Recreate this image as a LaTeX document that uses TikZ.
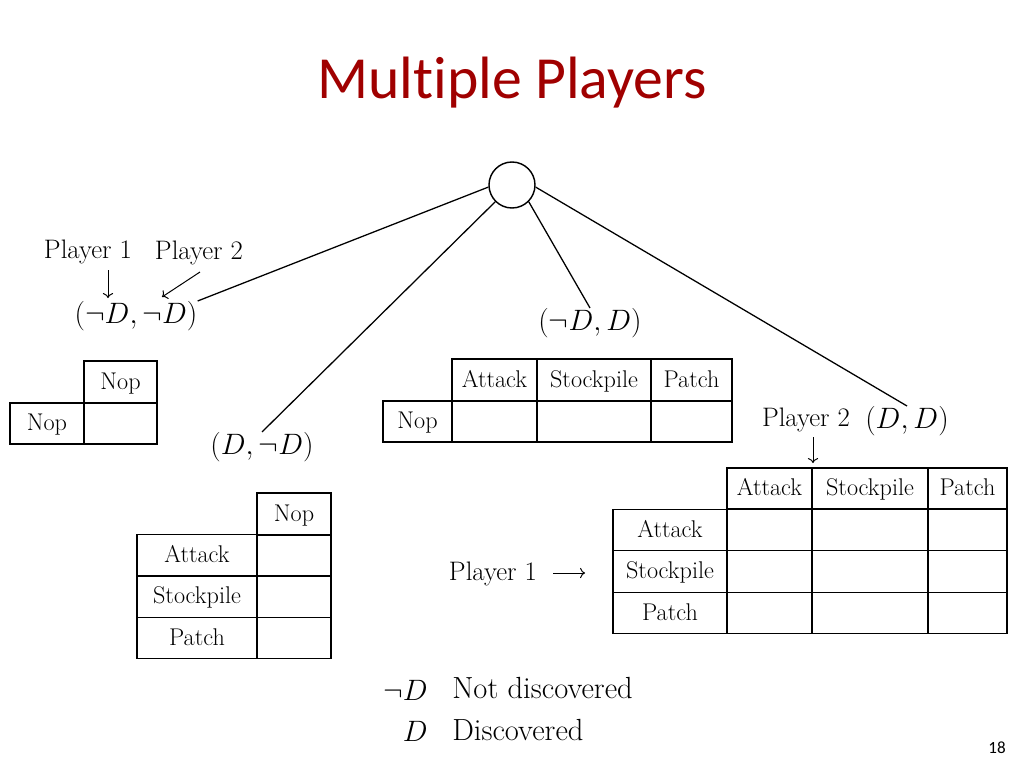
\documentclass[tikz,border=0pt]{standalone}
\usepackage{amsmath,amssymb}
\usepackage{fontspec}
\newfontfamily\calibri[Ligatures={NoCommon,NoContextual}]{Carlito}
\definecolor{titleRed}{RGB}{160, 0, 0}
\usepackage{tikz}
\usetikzlibrary{positioning, calc, arrows.meta}
\def\pxu{0.703pt}

\begin{document}
\begin{tikzpicture}[
    x=0.703pt, y=-0.703pt,
    cell/.style={rectangle, draw, line width=0.9pt, inner sep=0pt,
                 text height=11pt, text depth=1pt,
                 font=\fontsize{17}{20}\selectfont},
    mlbl/.style={inner sep=0pt, font=\fontsize{20}{24}\selectfont},
    plbl/.style={inner sep=0pt, font=\fontsize{18.8}{22}\selectfont},
    lgtxt/.style={inner sep=0pt, font=\fontsize{21.5}{25}\selectfont},
    edge/.style={line width=0.9pt},
    parrow/.style={-{Computer Modern Rightarrow[scale=1.1]}, line width=0.7pt},
  ]
    \useasboundingbox (0,0) rectangle (1024,768);

    % Title
    \node[font=\calibri\fontsize{42}{48}\selectfont, text=titleRed] (title) at (512,83) {Multiple Players};

    % Root and outcomes
    \node[circle, draw, line width=1pt, minimum size=46*\pxu, inner sep=0pt] (root) at (512,185) {};
    \node[mlbl] (nn) at (136,316) {$(\neg D, \neg D)$};
    \node[mlbl] (nd) at (590,323) {$(\neg D, D)$};
    \node[mlbl] (dn) at (262,447) {$(D, \neg D)$};
    \node[mlbl] (dd) at (907,421) {$(D, D)$};
    \draw[edge] (root.185) -- (nn.north east);
    \draw[edge] (root.225) -- (dn.north);
    \draw[edge] (root.315) -- (nd.north);
    \draw[edge] (root.355) -- (dd.north);

    % Player labels
    \node[plbl] (p1a) at (88,252) {Player 1};
    \node[plbl] (p2a) at (199,253) {Player 2};
    \node[plbl] (p2b) at (806,420) {Player 2};
    \node[plbl] (p1b) at (493,574) {Player 1};
    \coordinate (a1s) at (108,270);
    \coordinate (a1e) at (108,298);
    \coordinate (a2s) at (200,272);
    \coordinate (a2e) at (162,297);
    \coordinate (a3s) at (813,437);
    \coordinate (a3e) at (813,463);
    \coordinate (a4s) at (553,573);
    \coordinate (a4e) at (585,573);
    \draw[parrow] (a1s) -- (a1e);
    \draw[parrow] (a2s) -- (a2e);
    \draw[parrow] (a3s) -- (a3e);
    \draw[parrow] (a4s) -- (a4e);

    % Table (not D, not D)
    \node[cell, minimum width=73*\pxu, minimum height=42*\pxu] (nnH) at (120.5,382) {Nop};
    \node[cell, minimum width=74*\pxu, minimum height=41*\pxu] (nnR) at (47,423.5) {Nop};
    \node[cell, minimum width=73*\pxu, minimum height=41*\pxu] (nnC) at (120.5,423.5) {};

    % Table (not D, D)
    \node[cell, minimum width=69*\pxu, minimum height=41*\pxu] (ndR) at (417.5,421.5) {Nop};
    \foreach \nm/\cx/\w/\txt in {A/494.5/85/Attack, S/594/114/Stockpile, P/691.5/81/Patch}
    {
      \node[cell, minimum width=\w*\pxu, minimum height=42*\pxu] (ndH\nm) at (\cx,380) {\txt};
      \node[cell, minimum width=\w*\pxu, minimum height=41*\pxu] (ndC\nm) at (\cx,421.5) {};
    }

    % Table (D, not D)
    \node[cell, minimum width=74*\pxu, minimum height=42*\pxu] (dnH) at (294,514) {Nop};
    \foreach \rn/\cy/\txt in {A/555.5/Attack, S/596.5/Stockpile, P/638/Patch}
    {
      \node[cell, minimum width=120*\pxu, minimum height=41.5*\pxu] (dnR\rn) at (197,\cy) {\txt};
      \node[cell, minimum width=74*\pxu, minimum height=41.5*\pxu] (dnC\rn) at (294,\cy) {};
    }

    % Table (D, D)
    \foreach \cn/\cx/\w/\txt in {A/769.5/85/Attack, S/870/116/Stockpile, P/967.5/79/Patch}
      \node[cell, minimum width=\w*\pxu, minimum height=41*\pxu] (ddH\cn) at (\cx,488.5) {\txt};
    \foreach \rn/\cy/\txt in {A/530/Attack, S/571.5/Stockpile, P/613/Patch}
    {
      \node[cell, minimum width=114*\pxu, minimum height=41.5*\pxu] (ddR\rn) at (670,\cy) {\txt};
      \foreach \cn/\cx/\w in {A/769.5/85, S/870/116, P/967.5/79}
        \node[cell, minimum width=\w*\pxu, minimum height=41.5*\pxu] (ddC\rn\cn) at (\cx,\cy) {};
    }

    % Legend
    \node[mlbl, anchor=east] (lgND) at (428,690) {$\neg D$};
    \node[lgtxt, anchor=west] (lgNDt) at (452,688) {Not discovered};
    \node[mlbl, anchor=east] (lgD) at (428,731) {$D$};
    \node[lgtxt, anchor=west] (lgDt) at (452,730) {Discovered};

    % Page number
    \node[font=\calibri\fontsize{12}{14}\selectfont] (pnum) at (997,748) {18};
  \end{tikzpicture}
\end{document}
